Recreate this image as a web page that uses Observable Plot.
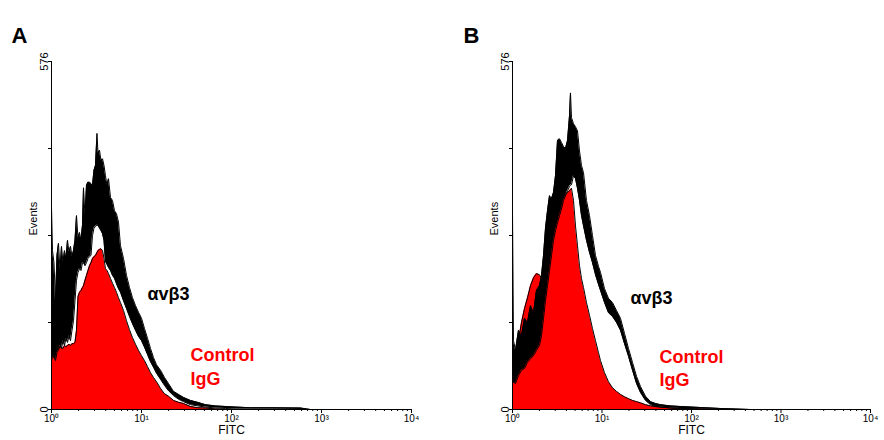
<!DOCTYPE html>
<html>
<head>
<meta charset="utf-8">
<script src="https://cdn.jsdelivr.net/npm/d3@7"></script>
<script src="https://cdn.jsdelivr.net/npm/@observablehq/plot@0.6"></script>
<style>
  html, body { margin: 0; padding: 0; background: #fff; }
  #wrap { position: relative; width: 884px; height: 440px; overflow: hidden; }
  #panelA { position: absolute; left: 0; top: 0; }
  #panelB { position: absolute; left: 461px; top: 0; }
</style>
</head>
<body>
<div id="wrap"><div id="panelA"></div><div id="panelB"></div></div>
<script>
// ---------- Axis ticks / labels ----------
const yTicks = [0, 144, 288, 432, 576];
const yTickLabels = ["0", "", "", "", "576"];
const xMajor = [1, 10, 100, 1000, 10000];
const xMajorLabels = ["10⁰", "10¹", "10²", "10³", "10⁴"];
const xMinor = [2,3,4,5,6,7,8,9, 20,30,40,50,60,70,80,90, 200,300,400,500,600,700,800,900, 2000,3000,4000,5000,6000,7000,8000,9000];
const panelLetters = ["A", "B"];
const seriesNames = ["αvβ3", "Control", "IgG"];

// ---------- Panel A (FITC channel value, events) ----------
const fitcA = [1.000,1.026,1.066,1.108,1.151,1.196,1.243,1.292,1.342,1.395,
  1.449,1.506,1.565,1.626,1.690,1.756,1.824,1.896,1.970,2.047,
  2.127,2.210,2.268,2.356,2.448,2.544,2.643,2.747,2.854,2.966,
  3.082,3.202,3.285,3.415,3.548,3.687,3.831,3.981,4.137,4.299,
  4.524,4.762,5.012,5.275,5.553,5.843,6.310,6.813,7.356,7.943,
  8.577,9.261,10.00,10.80,11.66,12.59,13.59,14.68,16.26,18.01,
  19.95,22.68,25.77,29.29,35.04,41.90,51.43,66.40,85.77,110.8,
  162.6,271.3,584.5,754.6,10000];
// αvβ3 histogram: upper and lower extent of the noisy trace
const avb3A_hi = [336,263,243,180,255,275,230,270,243,263,
  250,280,260,270,253,263,280,321,283,293,
  280,305,367,321,371,376,376,374,371,396,
  404,457,424,429,412,415,404,387,371,382,
  351,346,329,324,310,271,250,222,202,185,
  172,161,151,134,118,101,86,74,65,53,
  43,30,25,20,15,12,8,6,5,4,
  3,3,2.5,0,0];
const avb3A_lo = [84,84,89,81,94,98,106,101,114,106,
  118,111,122,114,131,147,180,214,227,233,
  230,243,243,238,243,250,253,255,288,300,
  303,305,305,300,296,291,280,245,240,235,
  230,222,217,208,200,194,180,167,154,142,
  131,121,114,103,91,79,70,60,50,40,
  31,23,17,13,8,6,4,2.5,1.7,0.8,
  0.8,0.8,0,0,0];
const ctrlA = [101,101,98,99,103,101,104,103,101,106,
  104,106,108,106,109,109,111,131,187,194,
  197,202,205,214,222,230,238,243,250,253,
  255,260,263,265,266,263,250,233,230,225,
  217,209,202,194,185,177,164,147,132,119,
  108,98,89,81,71,61,53,46,35,26,
  22,15,12,10,5,3,2.5,0.8,0,0,
  0,0,0,0,0];

// ---------- Panel B ----------
const fitcB = [1.000,1.026,1.080,1.167,1.260,1.362,1.471,1.589,1.717,1.854,
  2.003,2.109,2.221,2.337,2.461,2.591,2.728,2.872,3.023,3.183,
  3.351,3.528,3.714,3.910,4.117,4.334,4.446,4.563,4.804,5.058,
  5.325,5.606,5.901,6.213,6.711,7.250,7.831,8.460,9.140,9.621,
  10.67,11.82,13.10,14.52,16.09,17.84,19.78,21.92,24.30,26.93,
  30.63,34.84,39.61,45.04,58.29,75.39,126.1,210.9,456.1,10000];
const avb3B_hi = [329,114,98,131,122,151,144,172,160,197,
  205,222,255,300,329,354,349,359,387,445,
  448,442,435,432,445,486,524,483,473,468,
  461,428,404,392,346,321,288,255,237,227,
  200,184,177,164,151,126,101,78,55,38,
  22,13,10,8,6,5,3.3,1.7,0,0];
const avb3B_lo = [43,45,43,56,65,68,78,84,89,98,
  106,122,151,180,205,230,255,280,296,309,
  321,332,346,354,362,369,371,372,387,382,
  366,346,321,304,280,260,243,223,207,197,
  177,160,154,144,131,109,88,65,43,28,
  15,8,5,4,2.5,1.7,0.8,0,0,0];
const ctrlB = [65,73,89,114,144,167,185,205,218,225,
  223,217,227,263,299,326,337,346,339,329,
  332,346,352,356,359,362,364,366,346,304,
  271,238,217,202,177,156,134,114,94,81,
  61,46,36,30,25,21,18,15,13,11,
  8,6,5,4,2.5,1.7,0.8,0,0,0];

const FONT = "'Liberation Sans', Arial, Helvetica, sans-serif";

function rows(x, a, b, c) {
  return x.map((v, i) => ({fitc: v, hi: a[i], lo: b[i], ctrl: c[i]}));
}

function panel(data, opts) {
  return Plot.plot({
    width: opts.width, height: 440,
    marginLeft: 51, marginRight: opts.marginRight, marginTop: 61, marginBottom: 31,
    x: {type: "log", domain: [1, 10000]},
    y: {domain: [0, 576]},
    style: {fontFamily: FONT, background: "transparent", overflow: "visible", color: "#000"},
    marks: [
      Plot.areaY(data, {x: "fitc", y: "ctrl", fill: "#ff0000"}),
      Plot.lineY(data, {x: "fitc", y: "ctrl", stroke: "#000", strokeWidth: 1}),
      Plot.areaY(data, {x: "fitc", y1: "lo", y2: "hi", fill: "#000"}),
      Plot.lineY(data, {x: "fitc", y: "hi", stroke: "#000", strokeWidth: 1}),
      Plot.lineY(data, {x: "fitc", y: "lo", stroke: "#000", strokeWidth: 1}),
      Plot.ruleX([1], {stroke: "#000"}),
      Plot.ruleY([0], {stroke: "#000"}),
      Plot.axisY({ticks: yTicks, tickSize: 3, tickRotate: -90, tickPadding: 1,
        tickFormat: d => yTickLabels[yTicks.indexOf(d)], fontSize: 11, label: null}),
      Plot.axisX({ticks: xMajor, tickSize: 4, tickPadding: 1,
        tickFormat: d => xMajorLabels[xMajor.indexOf(d)], fontSize: 10, label: null}),
      Plot.axisX({ticks: xMinor, tickSize: 2, tickFormat: () => "", label: null}),
      Plot.text(["Events"], {frameAnchor: "left", rotate: -90, dx: -18, fontSize: 11, fill: "#000"}),
      Plot.text(["FITC"], {frameAnchor: "bottom", dy: 24, fontSize: 12, fill: "#000"}),
      Plot.text([opts.letter], {frameAnchor: "top-left", textAnchor: "start", dx: opts.letterDx, dy: -34,
        fontSize: 22, fontWeight: "bold", fill: "#000"}),
      Plot.text([seriesNames[0]], {x: opts.avX, y: opts.avY, textAnchor: "start",
        fontSize: 18, fontWeight: "bold", fill: "#000"}),
      Plot.text([seriesNames[1]], {x: opts.ctX, y: opts.ctY, textAnchor: "start",
        fontSize: 18, fontWeight: "bold", fill: "#ff0000"}),
      Plot.text([seriesNames[2]], {x: opts.ctX, y: opts.igY, textAnchor: "start",
        fontSize: 18, fontWeight: "bold", fill: "#ff0000"})
    ]
  });
}

document.getElementById("panelA").appendChild(panel(rows(fitcA, avb3A_hi, avb3A_lo, ctrlA), {
  width: 442, marginRight: 31, letter: panelLetters[0], letterDx: -40,
  avX: 11.66, avY: 190, ctX: 35.0, ctY: 89, igY: 50
}));
document.getElementById("panelB").appendChild(panel(rows(fitcB, avb3B_hi, avb3B_lo, ctrlB), {
  width: 423, marginRight: 14, letter: panelLetters[1], letterDx: -49,
  avX: 20.8, avY: 184, ctX: 43.9, ctY: 87, igY: 48
}));
</script>
</body>
</html>
